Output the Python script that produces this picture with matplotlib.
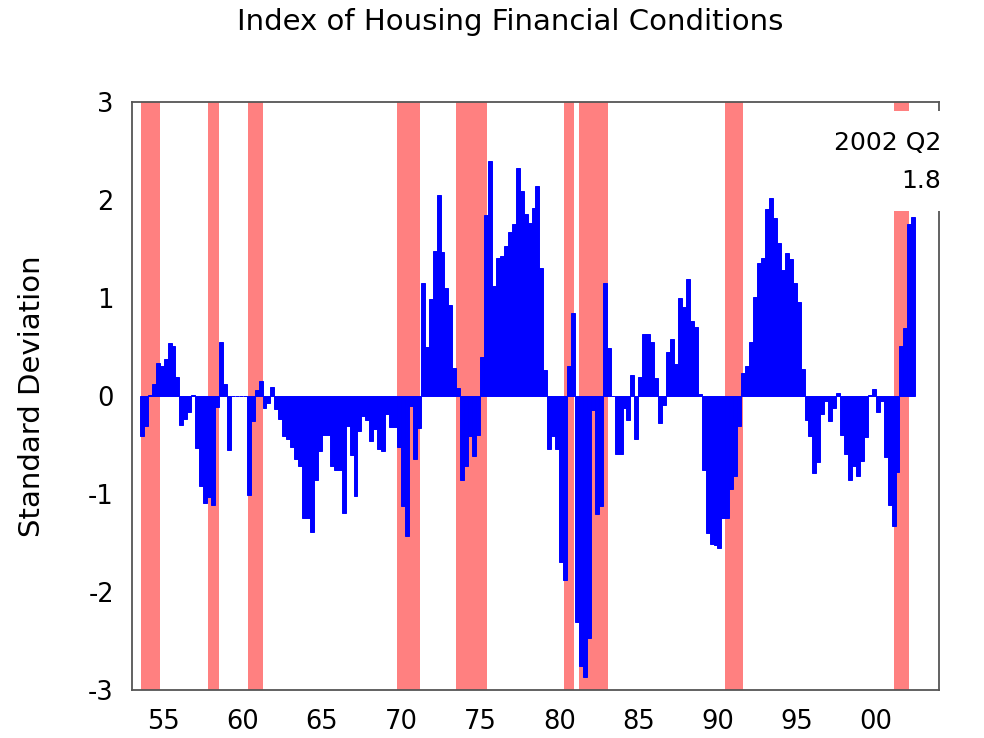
import numpy as np
import matplotlib
matplotlib.use("Agg")
import matplotlib.pyplot as plt
from matplotlib.patches import Rectangle

plt.rcParams['font.family'] = ['DejaVu Sans']
plt.rcParams['axes.unicode_minus'] = False

# Quarterly index, 1953Q3 .. 2002Q2
start_year, start_quarter = 1953, 3
values = [
    -0.41, -0.31, 0.01, 0.12, 0.34, 0.31, 0.38, 0.54, 0.51, 0.19,
    -0.30, -0.23, -0.16, 0.01, -0.53, -0.92, -1.09, -1.03, -1.11, -0.11,
    0.55, 0.12, -0.55, 0.0, 0.0, 0.0, 0.0, -1.01, -0.26, 0.06,
    0.15, -0.12, -0.07, 0.09, -0.13, -0.23, -0.41, -0.44, -0.52, -0.64,
    -0.71, -1.24, -1.24, -1.39, -0.86, -0.56, -0.40, -0.40, -0.71, -0.76,
    -0.76, -1.19, -0.31, -0.60, -1.02, -0.36, -0.20, -0.24, -0.46, -0.34,
    -0.54, -0.56, -0.18, -0.32, -0.32, -0.52, -1.12, -1.43, -0.10, -0.64,
    -0.33, 1.15, 0.50, 0.99, 1.48, 2.05, 1.47, 1.10, 0.93, 0.29,
    0.08, -0.86, -0.71, -0.41, -0.61, -0.40, 0.40, 1.85, 2.40, 1.12,
    1.41, 1.43, 1.53, 1.67, 1.75, 2.33, 2.09, 1.86, 1.77, 1.92,
    2.14, 1.31, 0.27, -0.54, -0.41, -0.54, -1.69, -1.88, 0.31, 0.85,
    -2.31, -2.75, -2.87, -2.47, -0.14, -1.20, -1.12, 1.15, 0.49, 0.0,
    -0.59, -0.59, -0.12, -0.24, 0.21, -0.44, 0.19, 0.63, 0.63, 0.55,
    0.18, -0.28, -0.09, 0.45, 0.58, 0.33, 1.00, 0.91, 1.19, 0.77,
    0.70, 0.02, -0.76, -1.40, -1.51, -1.52, -1.55, -1.24, -1.24, -0.95,
    -0.82, -0.31, 0.23, 0.31, 0.55, 1.01, 1.36, 1.41, 1.91, 2.02,
    1.82, 1.56, 1.29, 1.46, 1.40, 1.15, 0.96, 0.28, -0.24, -0.41,
    -0.79, -0.67, -0.18, -0.05, -0.25, -0.12, 0.03, -0.40, -0.59, -0.86,
    -0.71, -0.82, -0.66, -0.42, 0.01, 0.07, -0.16, -0.05, -0.62, -1.11,
    -1.33, -0.78, 0.51, 0.69, 1.76, 1.83,
]

# Recession shading (start, end) in years
recession_start = [1953.55, 1957.80, 1960.33, 1969.75, 1973.48, 1980.31, 1981.26, 1990.45, 2001.17]
recession_end = [1954.77, 1958.50, 1961.28, 1971.20, 1975.44, 1980.94, 1983.09, 1991.63, 2002.12]

tick_years = [1955, 1960, 1965, 1970, 1975, 1980, 1985, 1990, 1995, 2000]
tick_labels = ["55", "60", "65", "70", "75", "80", "85", "90", "95", "00"]
y_ticks = [-3, -2, -1, 0, 1, 2, 3]

title = "Index of Housing Financial Conditions"
ylabel = "Standard Deviation"
note_text = "2002 Q2\n1.8"

x = start_year + (start_quarter - 1) / 4 + 0.25 * np.arange(len(values))

fig = plt.figure(figsize=(9.84, 7.38), dpi=100)
ax = fig.add_axes([0.1341, 0.065, 0.8202, 0.7968])

for s, e in zip(recession_start, recession_end):
    ax.axvspan(s, e, color='#FF8080', lw=0, zorder=1)

ax.bar(x, values, width=0.25, align='edge', color='#0000FF',
       edgecolor='#0000FF', linewidth=0.7, zorder=2)

ax.set_xlim(1953.0, 2004.0)
ax.set_ylim(-3, 3)
ax.set_xticks(tick_years)
ax.set_xticklabels(tick_labels)
ax.set_yticks(y_ticks)
ax.set_yticklabels([str(v) for v in y_ticks])
ax.tick_params(axis='both', length=0, labelsize=18.5)
ax.tick_params(axis='x', pad=14)
ax.tick_params(axis='y', pad=13)

for sp in ax.spines.values():
    sp.set_color('#555555')
    sp.set_linewidth(1.3)

ax.set_ylabel(ylabel, fontsize=21, labelpad=30)
fig.text(0.518, 0.970, title, ha='center', va='center', fontsize=21)

# white label box over the top-right corner
box = Rectangle((1998.2, 1.89), 6.5, 1.02, facecolor='white', edgecolor='none',
                zorder=4, clip_on=False)
ax.add_patch(box)
ax.text(2004.15, 2.39, note_text, ha='right', va='center', multialignment='right',
        fontsize=18, linespacing=1.75, zorder=5, clip_on=False)

fig.savefig("out.png", dpi=100)
